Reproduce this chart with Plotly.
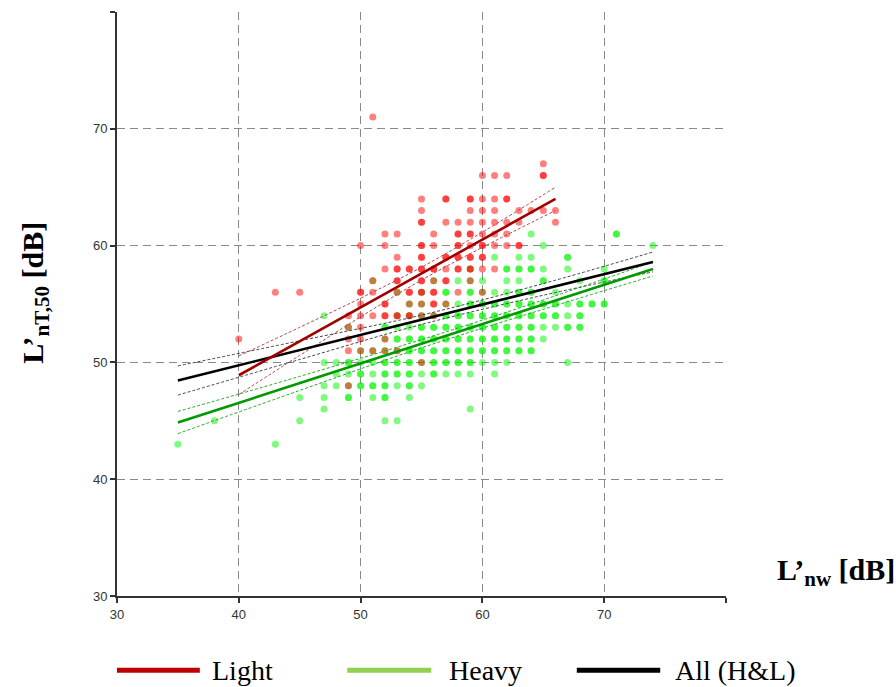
import plotly.graph_objects as go

# ---------------- data ----------------
# Light (red) measured points: column x -> list of y values and point counts
light_cols = [40, 43, 45, 49, 50, 51, 52, 53, 54, 55, 56, 57, 58, 59, 60, 61, 62, 63, 64, 65, 66]
light_ys = [
    [52], [56], [56],
    [54, 53, 52, 51, 48],
    [60, 56, 55, 54, 53, 52, 51],
    [71, 57, 56, 54, 51],
    [61, 60, 58, 55, 54, 52, 51],
    [61, 59, 58, 57, 56, 54, 51],
    [58, 56, 55, 54],
    [64, 63, 62, 60, 59, 58, 57, 56, 55, 54, 50],
    [61, 60, 58, 57, 56, 55, 54],
    [64, 62, 59, 58, 57, 55],
    [62, 61, 60, 59, 58, 56],
    [64, 63, 62, 61, 60, 59, 58, 57],
    [66, 64, 63, 62, 61, 60, 59, 58, 56],
    [66, 64, 63, 62, 61, 60, 58],
    [66, 64, 62, 61, 60],
    [63, 62, 60],
    [63],
    [67, 66, 63],
    [63, 62],
]
light_ns = [
    [1], [1], [1],
    [1, 1, 1, 1, 1],
    [1, 2, 1, 1, 1, 1, 1],
    [1, 1, 1, 1, 1],
    [1, 1, 1, 2, 2, 1, 1],
    [1, 1, 2, 2, 1, 2, 1],
    [2, 2, 1, 2],
    [1, 1, 2, 2, 2, 2, 2, 2, 1, 1, 1],
    [1, 1, 2, 1, 2, 2, 1],
    [2, 1, 2, 1, 2, 1],
    [1, 2, 2, 2, 2, 1],
    [2, 1, 1, 2, 1, 2, 2, 1],
    [1, 1, 1, 1, 1, 2, 2, 1, 1],
    [1, 1, 1, 1, 1, 1, 1],
    [1, 2, 1, 1, 1],
    [1, 1, 2],
    [1],
    [1, 2, 1],
    [1, 1],
]

# Heavy (green) measured points
heavy_cols = [35, 38, 43, 45, 47, 48, 49, 50, 51, 52, 53, 54, 55, 56, 57, 58, 59, 60,
              61, 62, 63, 64, 65, 66, 67, 68, 69, 70, 71, 74]
heavy_ys = [
    [43], [45], [43],
    [47, 45],
    [54, 50, 48, 47, 46],
    [50, 49, 48],
    [53, 50, 49, 48, 47],
    [51, 50, 49, 48],
    [57, 51, 50, 49, 48, 47],
    [53, 52, 51, 50, 49, 48, 47, 45],
    [56, 54, 53, 52, 51, 50, 49, 48, 45],
    [55, 54, 53, 52, 51, 50, 49, 48, 47],
    [56, 55, 54, 53, 52, 51, 50, 49, 48],
    [57, 54, 53, 52, 51, 50, 49],
    [56, 55, 54, 53, 52, 51, 50, 49],
    [57, 55, 54, 53, 52, 51, 50, 49],
    [58, 57, 56, 55, 54, 53, 52, 51, 50, 49, 46],
    [57, 56, 55, 54, 53, 52, 51, 50],
    [59, 56, 55, 54, 53, 52, 51, 50, 49],
    [58, 57, 56, 55, 54, 53, 52, 51, 50],
    [59, 58, 57, 56, 55, 54, 53, 52, 51],
    [61, 59, 58, 56, 55, 54, 53, 52, 51],
    [60, 58, 57, 55, 54, 53, 52],
    [56, 55, 54, 53],
    [59, 58, 55, 54, 53, 50],
    [57, 55, 54, 53],
    [55],
    [58, 57, 55],
    [61],
    [60],
]
heavy_ns = [
    [1], [1], [1],
    [1, 1],
    [1, 1, 1, 1, 1],
    [1, 1, 1],
    [1, 2, 1, 1, 2],
    [1, 1, 2, 2],
    [1, 1, 1, 1, 2, 1],
    [2, 1, 1, 2, 2, 2, 2, 1],
    [1, 1, 1, 2, 1, 2, 2, 1, 1],
    [1, 1, 1, 2, 2, 2, 2, 2, 1],
    [1, 1, 1, 2, 2, 2, 1, 1, 1],
    [1, 1, 2, 2, 2, 2, 2],
    [2, 1, 2, 2, 2, 2, 2, 1],
    [1, 1, 2, 2, 2, 2, 2, 1],
    [1, 1, 2, 2, 2, 2, 2, 2, 2, 1, 1],
    [1, 1, 2, 2, 2, 2, 2, 1],
    [1, 1, 2, 2, 2, 2, 2, 1, 1],
    [2, 1, 1, 2, 2, 2, 2, 2, 1],
    [1, 2, 1, 2, 2, 2, 2, 2, 2],
    [1, 1, 2, 2, 2, 2, 2, 2, 2],
    [1, 1, 2, 2, 2, 1, 1],
    [1, 2, 2, 1],
    [2, 1, 1, 1, 2, 1],
    [1, 2, 2, 2],
    [2],
    [1, 2, 2],
    [2],
    [1],
]

# Regression lines
light_fit_x = [40, 66]
light_fit_y = [48.9, 64.0]
heavy_fit_x = [35, 74]
heavy_fit_y = [44.85, 58.0]
all_fit_x = [35, 74]
all_fit_y = [48.45, 58.6]

# Confidence bands
light_ci_x = [40, 45, 50, 55, 60, 66]
light_ci_hi = [50.55, 53.0, 55.5, 58.15, 61.15, 65.0]
light_ci_lo = [47.25, 50.6, 53.9, 57.05, 59.85, 63.0]
heavy_ci_x = [35, 45, 55, 65, 74]
heavy_ci_hi = [45.8, 48.8, 51.95, 55.35, 58.6]
heavy_ci_lo = [43.9, 47.6, 51.25, 54.55, 57.4]
all_ci_x = [35, 45, 55, 65, 74]
all_ci_hi = [49.7, 51.85, 54.05, 56.75, 59.45]
all_ci_lo = [47.2, 50.25, 53.25, 55.75, 57.75]

tick_vals = [30, 40, 50, 60, 70, 80]
tick_text = ["30", "40", "50", "60", "70", ""]

legend_names = ["Light", "Heavy", "All (H&amp;L)"]
legend_colors = ["#c00000", "#92d050", "#000000"]


def expand(cols, ys, ns):
    px, py = [], []
    for c, yl, nl in zip(cols, ys, ns):
        for y, n in zip(yl, nl):
            for _ in range(n):
                px.append(c)
                py.append(y)
    return px, py


hx, hy = expand(heavy_cols, heavy_ys, heavy_ns)
lx, ly = expand(light_cols, light_ys, light_ns)

fig = go.Figure()
fig.add_trace(go.Scatter(x=hx, y=hy, mode="markers",
                         marker=dict(size=7, color="rgba(0,245,0,0.5)", line=dict(width=0)),
                         showlegend=False, hoverinfo="skip"))
fig.add_trace(go.Scatter(x=lx, y=ly, mode="markers",
                         marker=dict(size=7, color="rgba(255,0,0,0.5)", line=dict(width=0)),
                         showlegend=False, hoverinfo="skip"))

ci_dash = "3px,2px"
for cx, hi, lo, col in [(heavy_ci_x, heavy_ci_hi, heavy_ci_lo, "#22aa22"),
                        (all_ci_x, all_ci_hi, all_ci_lo, "#444444"),
                        (light_ci_x, light_ci_hi, light_ci_lo, "#b04848")]:
    for yy in (hi, lo):
        fig.add_trace(go.Scatter(x=cx, y=yy, mode="lines", line=dict(color=col, width=1, dash=ci_dash, shape="spline"),
                                 showlegend=False, hoverinfo="skip"))

fig.add_trace(go.Scatter(x=heavy_fit_x, y=heavy_fit_y, mode="lines", line=dict(color="#009a00", width=2.6),
                         showlegend=False))
fig.add_trace(go.Scatter(x=all_fit_x, y=all_fit_y, mode="lines", line=dict(color="#000000", width=2.6),
                         showlegend=False))
fig.add_trace(go.Scatter(x=light_fit_x, y=light_fit_y, mode="lines", line=dict(color="#a00000", width=2.6),
                         showlegend=False))

axis_common = dict(
    range=[30, 80], tickvals=tick_vals, ticktext=tick_text,
    showgrid=True, gridcolor="#8a8a8a", gridwidth=1.4, griddash="8px,5px",
    showline=True, linecolor="#333333", linewidth=2,
    ticks="outside", ticklen=5, tickcolor="#333333", tickwidth=1.5,
    tickfont=dict(family="Liberation Sans, Arial", size=13, color="#333333"),
    zeroline=False,
)

fig.update_layout(
    width=896, height=687,
    margin=dict(l=117, r=170, t=12, b=91),
    plot_bgcolor="white", paper_bgcolor="white",
    xaxis=axis_common, yaxis=axis_common,
    showlegend=False,
)

serif = "Liberation Serif, Times New Roman, serif"
fig.add_annotation(text="<b>L’<sub>nT,50</sub> [dB]</b>", xref="paper", yref="paper",
                   x=-0.135, y=0.519, textangle=-90, showarrow=False,
                   xanchor="center", yanchor="middle",
                   font=dict(family=serif, size=30, color="black"))
fig.add_annotation(text="<b>L’<sub>nw</sub> [dB]</b>", xref="paper", yref="paper",
                   x=1.0805, y=0.041, showarrow=False, xanchor="left", yanchor="middle",
                   font=dict(family=serif, size=30, color="black"))

# manual legend along the bottom
leg_line_x0 = [0.0, 0.378, 0.755]
leg_line_x1 = [0.136, 0.516, 0.892]
leg_text_x = [0.153, 0.542, 0.913]
leg_y = -0.127
for x0, x1, tx, name, col in zip(leg_line_x0, leg_line_x1, leg_text_x, legend_names, legend_colors):
    fig.add_shape(type="line", xref="paper", yref="paper", x0=x0, x1=x1, y0=leg_y, y1=leg_y,
                  line=dict(color=col, width=5))
    fig.add_annotation(text=name, xref="paper", yref="paper", x=tx, y=leg_y - 0.001,
                       showarrow=False, xanchor="left", yanchor="middle",
                       font=dict(family=serif, size=28, color="black"))

fig.write_html("out.html", config={"displayModeBar": False},
               post_script="document.body.style.margin='0px';document.body.style.overflow='hidden';")
